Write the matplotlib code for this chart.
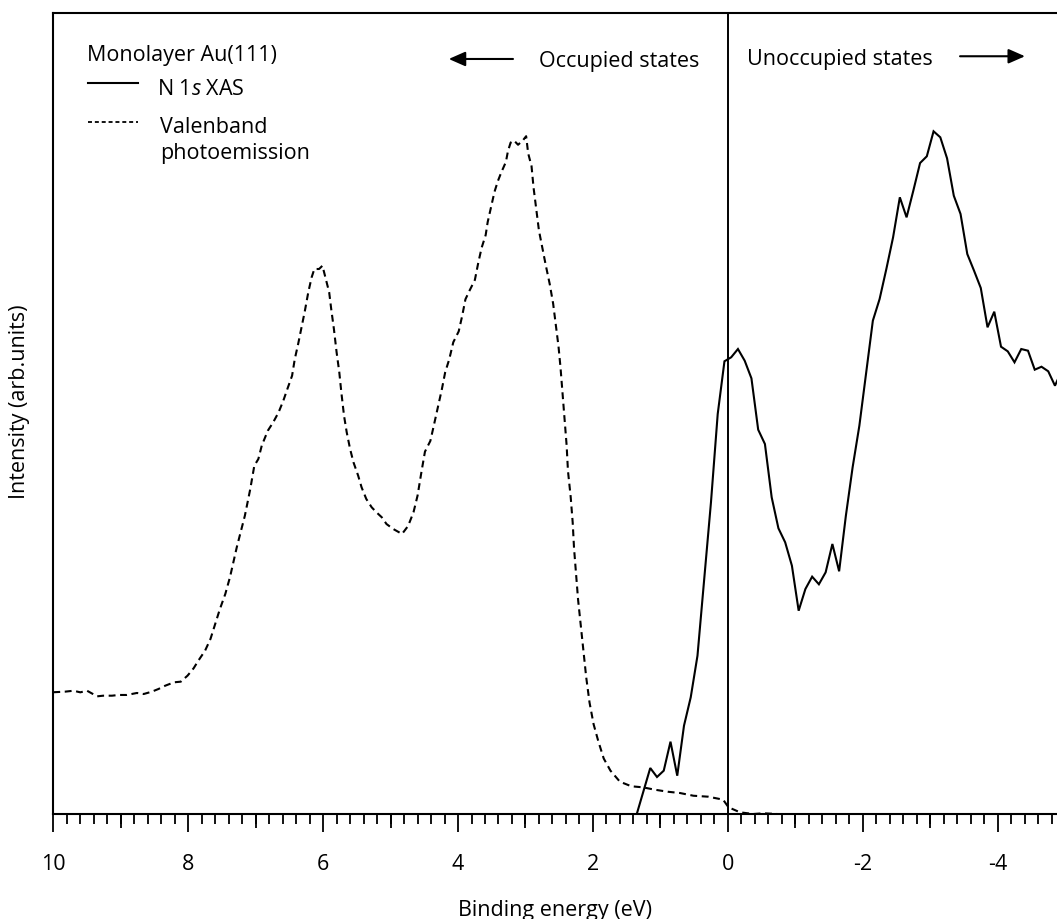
import matplotlib
matplotlib.use('Agg')
import matplotlib.pyplot as plt
from matplotlib.ticker import MultipleLocator

# ---------------- data ----------------
vb_energy = [10.0, 9.83, 9.70, 9.60, 9.50, 9.35, 9.26, 9.13, 9.03, 8.91, 8.76, 8.66, 8.54, 8.44,
             8.34, 8.21, 8.11, 8.01, 7.92, 7.85, 7.75, 7.67, 7.60, 7.53, 7.45, 7.38, 7.28, 7.23,
             7.16, 7.08, 7.02, 6.96, 6.91, 6.82, 6.74, 6.66, 6.59, 6.53, 6.46, 6.42, 6.37, 6.32,
             6.27, 6.22, 6.17, 6.13, 6.06, 6.01, 5.96, 5.91, 5.88, 5.84, 5.80, 5.76, 5.73, 5.69,
             5.65, 5.60, 5.55, 5.48, 5.43, 5.36, 5.28, 5.21, 5.13, 5.06, 4.96, 4.83, 4.74, 4.66,
             4.60, 4.54, 4.49, 4.41, 4.36, 4.29, 4.24, 4.19, 4.13, 4.07, 3.99, 3.94, 3.89, 3.83,
             3.75, 3.70, 3.65, 3.59, 3.56, 3.51, 3.46, 3.41, 3.36, 3.29, 3.26, 3.22, 3.17, 3.11,
             3.04, 2.99, 2.96, 2.91, 2.88, 2.84, 2.80, 2.75, 2.70, 2.64, 2.59, 2.55, 2.51, 2.48,
             2.45, 2.42, 2.39, 2.37, 2.33, 2.30, 2.28, 2.25, 2.22, 2.18, 2.14, 2.10, 2.05, 1.99,
             1.92, 1.84, 1.74, 1.60, 1.43, 1.26, 1.08, 0.89, 0.71, 0.51, 0.29, 0.07, -0.01,
             -0.18, -0.38, -0.53, -0.73]
vb_intensity = [15.2, 15.27, 15.39, 15.19, 15.39, 14.69, 14.77, 14.77, 14.86, 14.86, 15.11, 14.98,
                15.27, 15.61, 16.02, 16.44, 16.52, 17.27, 18.19, 19.14, 20.39, 21.85, 23.72, 25.59,
                27.47, 29.59, 33.30, 34.96, 37.24, 40.57, 43.48, 44.32, 45.98, 47.85, 48.90, 50.15,
                51.60, 53.06, 54.72, 56.80, 58.68, 60.76, 62.83, 65.13, 67.00, 68.04, 68.04, 68.45,
                66.79, 65.13, 63.05, 60.55, 57.64, 55.14, 52.65, 49.73, 47.65, 45.57, 43.91, 42.23,
                40.79, 39.33, 38.29, 37.67, 37.04, 36.20, 35.58, 34.96, 35.96, 37.67, 39.74, 42.82,
                45.24, 46.58, 48.45, 51.14, 53.01, 55.16, 56.77, 58.90, 60.25, 62.12, 64.26, 65.33,
                66.68, 68.81, 70.69, 72.28, 73.91, 75.78, 77.65, 79.00, 80.07, 81.41, 82.75, 83.82,
                84.08, 83.55, 84.08, 84.62, 82.48, 80.87, 78.19, 75.52, 72.83, 70.69, 68.55, 66.14,
                63.73, 61.05, 58.36, 55.69, 52.47, 49.26, 46.04, 42.83, 39.61, 36.40, 33.18, 29.96,
                26.75, 23.55, 20.32, 17.10, 13.90, 11.21, 9.08, 6.93, 5.41, 4.03, 3.46, 3.33, 3.03,
                2.78, 2.62, 2.28, 2.16, 1.79, 0.84, 0.21, 0.0, 0.09, 0.0]

xas_energy = [1.35, 1.15, 1.05, 0.95, 0.85, 0.75, 0.65, 0.55, 0.45, 0.35, 0.25, 0.15, 0.05,
              -0.05, -0.15, -0.25, -0.35, -0.45, -0.55, -0.65, -0.75, -0.85, -0.95, -1.05,
              -1.15, -1.25, -1.35, -1.45, -1.55, -1.65, -1.75, -1.85, -1.95, -2.15, -2.25,
              -2.35, -2.45, -2.55, -2.65, -2.75, -2.85, -2.95, -3.05, -3.15, -3.25, -3.35,
              -3.45, -3.55, -3.65, -3.75, -3.85, -3.95, -4.05, -4.15, -4.25, -4.35, -4.45,
              -4.55, -4.65, -4.75, -4.85, -4.95]
xas_intensity = [0.0, 5.74, 4.62, 5.41, 9.03, 4.78, 11.02, 14.57, 19.76, 29.34, 38.91, 49.94,
                 56.52, 57.02, 58.05, 56.59, 54.39, 47.98, 46.19, 39.54, 35.67, 33.92, 31.00,
                 25.38, 28.09, 29.63, 28.68, 30.17, 33.71, 30.30, 37.24, 43.28, 48.48, 61.59,
                 64.29, 68.04, 72.00, 76.99, 74.49, 77.82, 81.27, 82.11, 85.23, 84.48, 81.86,
                 77.19, 74.91, 69.91, 67.83, 65.67, 60.76, 62.71, 58.34, 57.76, 56.39, 58.05,
                 57.84, 55.47, 55.84, 55.27, 53.47, 55.34]

x_major_ticks = [10, 8, 6, 4, 2, 0, -2, -4]
x_tick_labels = ['10', '8', '6', '4', '2', '0', '-2', '-4']
x_mid_ticks = [9, 7, 5, 3, 1, -1, -3]

# ---------------- style ----------------
plt.rcParams['font.family'] = ['Open Sans', 'DejaVu Sans']
plt.rcParams['mathtext.fontset'] = 'custom'
plt.rcParams['mathtext.rm'] = 'Open Sans'
plt.rcParams['mathtext.it'] = 'Open Sans:italic'
FS = 15.5

W, H = 1057, 920
fig = plt.figure(figsize=(W / 100, H / 100), dpi=100)
ax = fig.add_axes([53.3 / W, (H - 815) / H, 1 - 53.3 / W, (815 - 14) / H])

ax.plot(xas_energy, xas_intensity, color='black', lw=1.5, solid_joinstyle='miter')
ax.plot(vb_energy, vb_intensity, color='black', lw=1.5, linestyle=(0, (3.3, 2.2)))
ax.axvline(0, color='black', lw=1.4)

ax.set_xlim(10, -4.88)
ax.set_ylim(0, 100)
ax.set_yticks([])
ax.spines['right'].set_visible(False)
for s in ('left', 'top', 'bottom'):
    ax.spines[s].set_linewidth(1.5)

ax.set_xticks(x_major_ticks, x_tick_labels)
ax.xaxis.set_minor_locator(MultipleLocator(0.2))
ax.tick_params(axis='x', which='major', direction='out', length=13.2, width=1.3,
               pad=15, labelsize=FS)
ax.tick_params(axis='x', which='minor', direction='out', length=7.2, width=1.3)
sec = ax.secondary_xaxis('bottom')
sec.set_xticks(x_mid_ticks)
sec.set_xticklabels([])
sec.tick_params(axis='x', direction='out', length=10.3, width=1.3)
sec.spines['bottom'].set_visible(False)

# arrows and annotations
ap = dict(arrowstyle='-|>,head_length=0.5,head_width=0.22', color='black', lw=1.5,
          mutation_scale=20, shrinkA=0, shrinkB=0)
ax.annotate('', xy=(0.394, 0.9426), xytext=(0.458, 0.9426), xycoords='axes fraction',
            textcoords='axes fraction', arrowprops=ap)
ax.annotate('', xy=(0.9681, 0.946), xytext=(0.9034, 0.946), xycoords='axes fraction',
            textcoords='axes fraction', arrowprops=ap)
ax.text(0.4844, 0.9342, 'Occupied states', transform=ax.transAxes, fontsize=FS,
        ha='left', va='baseline')
ax.text(0.6911, 0.9363, 'Unoccupied states', transform=ax.transAxes, fontsize=FS,
        ha='left', va='baseline')

# legend (manual)
ax.text(0.0336, 0.9413, 'Monolayer Au(111)', transform=ax.transAxes, fontsize=FS,
        ha='left', va='baseline')
ax.plot([0.0346, 0.0844], [0.9122, 0.9122], transform=ax.transAxes, color='black', lw=1.5)
ax.text(0.1033, 0.8989, r'N 1$\mathit{s}$ XAS', transform=ax.transAxes, fontsize=FS,
        ha='left', va='baseline')
ax.plot([0.0346, 0.0844], [0.8635, 0.8635], transform=ax.transAxes, color='black', lw=1.3,
        linestyle=(0, (2.2, 1.6)))
ax.text(0.1063, 0.8514, 'Valenband', transform=ax.transAxes, fontsize=FS,
        ha='left', va='baseline')
ax.text(0.1063, 0.819, 'photoemission', transform=ax.transAxes, fontsize=FS,
        ha='left', va='baseline')

fig.text(20 / W, 1 - 402 / H, 'Intensity (arb.units)', rotation=90, ha='center',
         va='center', fontsize=FS)
fig.text(555 / W, (H - 916) / H, 'Binding energy (eV)', ha='center', va='baseline',
         fontsize=FS)

fig.savefig('out.png', dpi=100)
